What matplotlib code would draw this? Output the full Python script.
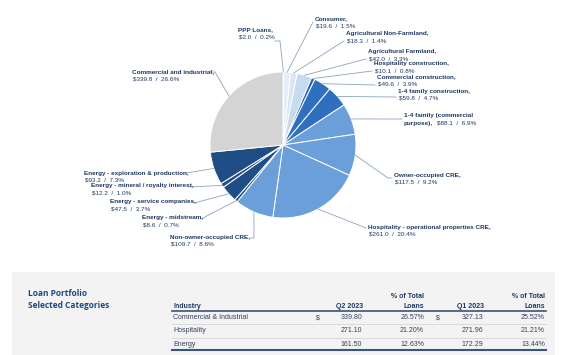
import numpy as np
import matplotlib
matplotlib.use("Agg")
import matplotlib.pyplot as plt
from matplotlib.patches import Rectangle

W, H = 565, 355

# --- pie data (clockwise from 12 o'clock) ---
names = [
    "PPP Loans,", "Consumer,", "Agricultural Non-Farmland,", "Agricultural Farmland,",
    "Hospitality construction,", "Commercial construction,", "1-4 family construction,",
    "1-4 family (commercial", "Owner-occupied CRE,", "Hospitality - operational properties CRE,",
    "Non-owner-occupied CRE,", "Energy - midstream,", "Energy - service companies,",
    "Energy - mineral / royalty interest,", "Energy - exploration & production,",
    "Commercial and industrial,",
]
amounts = [2.0, 19.6, 18.3, 42.0, 10.1, 49.6, 59.8, 88.1, 117.5, 261.0, 109.7, 8.6, 47.5, 12.2, 93.2, 339.8]
pcts = [0.2, 1.5, 1.4, 3.3, 0.8, 3.9, 4.7, 6.9, 9.2, 20.4, 8.6, 0.7, 3.7, 1.0, 7.3, 26.6]
colors = [
    "#a6a6a6", "#e4edf8", "#d9e6f5", "#c6daf0",
    "#2a66ad", "#2e70bf", "#2e70bf",
    "#6a9fd9", "#6a9fd9", "#6a9fd9", "#6a9fd9",
    "#1f4e87", "#1f4e87", "#1f4e87", "#1f4e87",
    "#d4d4d4",
]

# --- table data ---
tbl_industry = ["Commercial & Industrial", "Hospitality", "Energy"]
tbl_q2 = ["339.80", "271.10", "161.50"]
tbl_q2_pct = ["26.57%", "21.20%", "12.63%"]
tbl_q1 = ["327.13", "271.96", "172.29"]
tbl_q1_pct = ["25.52%", "21.21%", "13.44%"]

NAVY = "#1f3864"
BODY = "#35405c"
LEAD = "#8da3bf"
FONT = "Liberation Sans"

# label layout: text x, first-line y, leader end (x, y), elbow dx (px), in image pixels
label_pos = [
    (238, 30, (275, 41), 5),
    (315, 19, (313, 22), 0),
    (346, 34, (344, 41), 0),
    (368, 52, (366, 59), 0),
    (374, 64, (372, 71), 0),
    (377, 77, (375, 85), 0),
    (398, 91, (396, 97), 0),
    (404, 116, (402, 119), 0),
    (394, 175, (392, 178), -4),
    (368, 227, (366, 228), 0),
    (170, 237, (250, 238), 4),
    (142, 218, (201, 219), 0),
    (110, 202, (194, 203), 0),
    (91, 186, (189, 187), 0),
    (84, 173, (186, 173), 0),
    (132, 72, (210, 72), 5),
]


def Y(y):
    return H - y


fig = plt.figure(figsize=(W / 100, H / 100), dpi=100)
ax = fig.add_axes([0, 0, 1, 1])

cx, cy, r = 283, Y(145), 73
wedges, _ = ax.pie(
    amounts, colors=colors, startangle=90, counterclock=False,
    center=(cx, cy), radius=r, frame=True,
    wedgeprops=dict(edgecolor="white", linewidth=0.7),
)
ax.set_xlim(0, W)
ax.set_ylim(0, H)
ax.set_aspect("auto")
ax.axis("off")

for i, w in enumerate(wedges):
    mid = np.deg2rad((w.theta1 + w.theta2) / 2)
    px, py = cx + r * np.cos(mid), cy + r * np.sin(mid)
    tx, ty1, (ex, ey), dx = label_pos[i]
    xs = [ex, ex + dx, px] if dx else [ex, px]
    ys = [Y(ey), Y(ey), py] if dx else [Y(ey), py]
    ax.plot(xs, ys, color=LEAD, lw=0.6, zorder=1)

    ax.text(tx, Y(ty1), names[i], fontsize=4.6, fontweight="bold", color=NAVY,
            family=FONT, va="center", ha="left")
    val = f"${amounts[i]:.1f}  /  {pcts[i]:.1f}%"
    if names[i].endswith("(commercial"):
        ax.text(tx, Y(ty1 + 7), "purpose),", fontsize=4.6, fontweight="bold",
                color=NAVY, family=FONT, va="center", ha="left")
        ax.text(tx + 33, Y(ty1 + 7), val, fontsize=4.6, color=NAVY, family=FONT,
                va="center", ha="left")
    else:
        ax.text(tx + 1, Y(ty1 + 7), val, fontsize=4.6, color=NAVY, family=FONT,
                va="center", ha="left")

# --- table panel ---
ax.add_patch(Rectangle((12, 0), 543, Y(272), facecolor="#f3f3f3", edgecolor="none", zorder=0))
ax.text(28, Y(294), "Loan Portfolio", fontsize=6.0, color="#1f497d", family="Open Sans",
        fontweight="bold", va="center")
ax.text(28, Y(306), "Selected Categories", fontsize=6.0, color="#1f497d", family="Open Sans",
        fontweight="bold", va="center")

hdr = dict(fontsize=5.0, fontweight="bold", color=NAVY, family=FONT, va="center")
ax.text(173, Y(306), "Industry", ha="left", **hdr)
ax.text(363, Y(306), "Q2 2023", ha="right", **hdr)
ax.text(424, Y(296), "% of Total", ha="right", **hdr)
ax.text(424, Y(306), "Loans", ha="right", **hdr)
ax.text(484, Y(306), "Q1 2023", ha="right", **hdr)
ax.text(545, Y(296), "% of Total", ha="right", **hdr)
ax.text(545, Y(306), "Loans", ha="right", **hdr)
ax.plot([172, 546], [Y(310.5), Y(310.5)], color="#3a5578", lw=1.2)

body = dict(fontsize=5.0, color=BODY, family=FONT, va="center")
row_y = [317.5, 331, 344]
for k in range(len(tbl_industry)):
    yy = Y(row_y[k])
    ax.text(173, yy, tbl_industry[k], ha="left", **body)
    ax.text(362, yy, tbl_q2[k], ha="right", **body)
    ax.text(424, yy, tbl_q2_pct[k], ha="right", **body)
    ax.text(483, yy, tbl_q1[k], ha="right", **body)
    ax.text(545, yy, tbl_q1_pct[k], ha="right", **body)
    if k == 0:
        ax.text(316, yy, "$", ha="left", **body)
        ax.text(436, yy, "$", ha="left", **body)
    if k < len(tbl_industry) - 1:
        ax.plot([172, 546], [Y(row_y[k] + 6.5)] * 2, color="#dadada", lw=0.7)
ax.plot([172, 546], [Y(350), Y(350)], color="#3a5578", lw=1.5)

fig.savefig("out.png", dpi=100, facecolor="white")
